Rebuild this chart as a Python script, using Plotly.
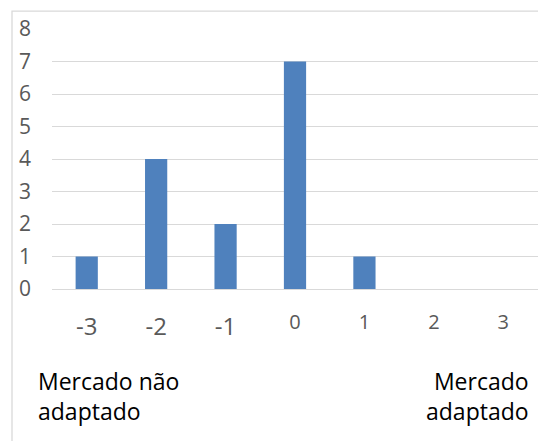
import plotly.graph_objects as go

# Distribution of answers on a -3..3 scale
categories = ["-3", "-2", "-1", "0", "1", "2", "3"]
counts = [1, 4, 2, 7, 1, 0, 0]
y_ticks = [0, 1, 2, 3, 4, 5, 6, 7, 8]
left_label = "Mercado não<br>adaptado"
right_label = "Mercado<br>adaptado"

GRID = "#d9d9d9"
TICK_GREY = "#595959"
BAR_BLUE = "#4f81bd"


def tick_text(cat):
    # negative values are set a little larger and sit a bit lower
    if cat.startswith("-"):
        return f'<span style="font-size:24px;baseline-shift:-6px">{cat}</span>'
    return cat


fig = go.Figure(
    go.Bar(
        x=categories,
        y=counts,
        marker=dict(color=BAR_BLUE, line=dict(width=0)),
        width=0.32,
    )
)

fig.update_layout(
    width=538,
    height=441,
    margin=dict(l=52, r=0, t=29, b=152),
    paper_bgcolor="white",
    plot_bgcolor="white",
    showlegend=False,
    font=dict(family="Open Sans", color=TICK_GREY),
    xaxis=dict(
        type="category",
        tickmode="array",
        tickvals=categories,
        ticktext=[tick_text(c) for c in categories],
        tickfont=dict(family="Open Sans", size=20, color=TICK_GREY),
        showgrid=False,
        showline=False,
        ticks="",
        ticklabelstandoff=19,
        range=[-0.5, 6.5],
    ),
    yaxis=dict(
        range=[0, 8],
        tickmode="array",
        tickvals=y_ticks,
        tickfont=dict(family="Open Sans", size=21, color=TICK_GREY),
        showgrid=True,
        gridcolor=GRID,
        gridwidth=1.3,
        zeroline=True,
        zerolinecolor=GRID,
        zerolinewidth=1.3,
        showline=False,
        ticks="",
        ticklabelstandoff=20,
    ),
    shapes=[
        dict(
            type="rect",
            xref="paper",
            yref="paper",
            x0=-0.0823,
            x1=1.2,
            y0=-0.8,
            y1=1.069,
            line=dict(color=GRID, width=1.3),
            fillcolor="rgba(0,0,0,0)",
            layer="below",
        )
    ],
    annotations=[
        dict(
            text=left_label,
            xref="paper",
            yref="paper",
            x=-0.033,
            y=-0.285,
            xanchor="left",
            yanchor="top",
            align="left",
            showarrow=False,
            font=dict(family="Open Sans", size=23, color="black"),
        ),
        dict(
            text=right_label,
            xref="paper",
            yref="paper",
            x=0.986,
            y=-0.285,
            xanchor="right",
            yanchor="top",
            align="right",
            showarrow=False,
            font=dict(family="Open Sans", size=23, color="black"),
        ),
    ],
)

fig.write_html("out.html")
